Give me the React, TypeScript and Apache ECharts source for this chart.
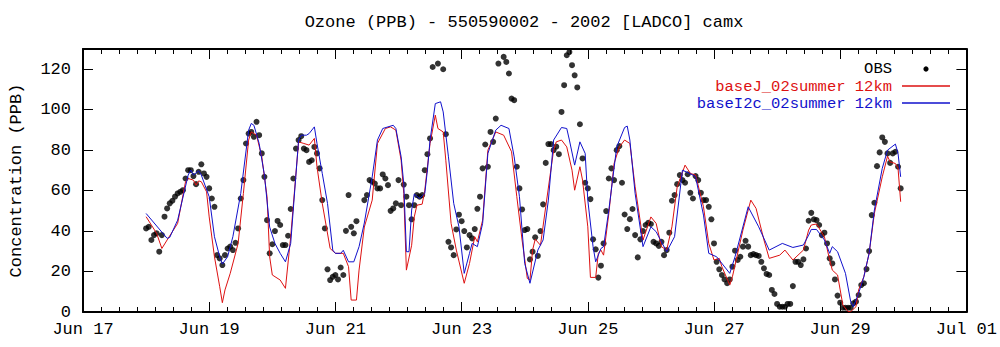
import React, { useEffect, useRef } from "react";
import * as echarts from "echarts";

// x positions are hours since 2002-06-18 00:00
const xTickLabels = ["Jun 17", "Jun 19", "Jun 21", "Jun 23", "Jun 25", "Jun 27", "Jun 29", "Jul 01"];
const seriesNames = ["OBS", "baseJ_02summer 12km", "baseI2c_02summer 12km"];

// hourly observations from Jun 18 00:00
const obsValues: (number | null)[] = [
  41.3, 42.1, 35.6, 38, 38.9, 29.8, 38, 47.1, 51.2, 53.7,
  55, 57, 58.6, 59.4, 60.2, 66, 70.1, 70.1, 67.2, 63.2,
  69.3, 73, 68.5, 66.8, 61.1, 56.1, 52, 28.1, 26.5, 23.2,
  28.1, 31.4, 32.3, 30.6, 34.2, 41.3, 56.1, 65.2, 83.3, 88.2,
  89, 86.6, 94, 87.4, 78.4, 66.8, 45.4, 29, 33.5, 40,
  45, 43, 33.1, 33.1, 37.7, 50.9, 66, 80.8, 85, 86.9,
  80.8, 80, 74.2, 75, 81.6, 78.4, 71, 55.3, 41.3, 21.1,
  15.8, 17.4, 18.3, 16.1, 22, 18.3, 40.1, 57.8, 42.1, 38.9,
  44.9, null, null, 55.3, 57.8, 65.2, 64.4, 63.5, 61.1, 61.1,
  68, 66, 62.7, 50, 51.2, 53.7, 65.2, 52.8, 63, 57,
  52.8, 45.8, 52.8, 57.8, 57, 57.8, 70.1, 78, 85.8, 121.1,
  null, 122.8, null, 120, 87.9, 34.7, 31.9, 28.1, 40.8, 48.1,
  44.9, 40, 31.9, 38, 36.4, 41, 51, 57, 71, 82.8,
  71.8, 89, 84.1, 95.6, 122.8, null, 126.1, 123.6, 117.9, 105.5,
  104.7, 71.8, 61.1, 50.7, 40.5, 41, 26, 29.8, 36.9, 27.7,
  40, 53.2, 73.7, 83, 83, 80, 81.7, 78, 98.9, 112.1,
  126.9, 128.5, 122, 117, 111, 92.8, 75.9, 63.9, 61.1, 55.8,
  35.9, 31, 17, 22.9, 33.9, 49.9, 66, 71, 65.2, 80,
  82, 63.9, 48.2, 41, 45.9, 50.9, 38, 27, 35.9, 40,
  43, 44.1, 43.5, 34.7, 33.9, 32.7, 34.7, 28.1, 30.6, 39.2,
  55, 57.8, 63.2, 67.7, 65.2, 63.9, 68.1, 58.9, 56.1, 67.2,
  65.2, 58.9, 55.3, 55.3, 52, 45.8, 33.9, 24.8, 21.1, 18.3,
  16.1, 14.2, 16.1, 22.4, 30.3, 25.7, 27.3, 32.3, 35.2, 32.3,
  28.1, 28.6, 28.1, 27.7, 24.8, 21.6, 18.8, 18.3, 10.9, 8.9,
  4, 2.6, 2.6, 2.6, 4, 4, 12.8, 24.8, 24.8, 23.2,
  26, 31.4, 45.1, 49, 45.8, 45.4, 43, 38, 39.2, 33.9,
  26.5, 24, 16.1, 8.1, 4.6, 2.1, 2.1, 2.1, 2.1, 4.3,
  5.1, 8.4, 13.3, 14.2, 21.2, 30.1, 47.9, 54, 72.1, 78.9,
  86.3, 84.1, 78.4, 73.7, 78.4, 79.2, 71.8, 61.1,
];

// model runs: [hour since Jun 18 00:00, ppb]
const baseJ: [number, number][] = [
  [0, 47.1], [4, 38.9], [6, 31.4], [8, 35.6], [12, 43.8], [15, 64.4], [16, 66], [18, 65.2], [19, 62.7], [20, 64.8],
  [21, 64.4], [23, 59.4], [24, 47], [26, 27.3], [28, 12.5], [29, 4.6], [30, 10.9], [32, 19.1], [35, 33.9], [37, 58.6],
  [39, 85], [40, 89], [42, 87.4], [44, 76.7], [46, 57], [47, 27.3], [48, 18.3], [51, 15.8], [53, 11.7], [55, 37.2],
  [58, 84.1], [60, 83.3], [62, 82.5], [64, 85.8], [65, 71.8], [67, 53.7], [70, 31.4], [72, 29], [75, 29], [77, 22.4],
  [78, 5.9], [80, 5.9], [81, 20.7], [83, 42], [86, 55.3], [88, 83.3], [91, 90.7], [93, 91.5], [95, 89.9], [97, 75],
  [98, 58.6], [99, 20.7], [101, 33], [102, 47], [103, 52.8], [105, 53.3], [106, 60.2], [108, 83.3], [110, 97.3], [111, 90.7],
  [113, 89], [114, 75], [116, 43.8], [118, 30.6], [121, 14.2], [123, 24], [125, 37.2], [126, 34.7], [128, 45.4], [130, 80],
  [133, 89], [136, 87.4], [139, 79.2], [141, 57], [143, 35.6], [145, 16.6], [146, 15.8], [147, 30.6], [148, 36], [150, 33],
  [152, 52], [155, 80], [156, 84.1], [158, 85], [160, 81.6], [162, 70.1], [163, 60.2], [165, 71.8], [166, 65.2], [168, 42.1],
  [169, 17.1], [171, 17.1], [172, 29], [173, 30.6], [174, 28.1], [176, 48.7], [178, 73.4], [180, 81.6], [182, 85], [184, 83.3],
  [186, 61.9], [189, 35.6], [192, 47], [194, 43.8], [196, 32.3], [198, 30.6], [200, 42.1], [202, 61.9], [205, 72.6], [207, 68.5],
  [209, 67.7], [212, 52], [214, 33.9], [216, 25.7], [218, 26.5], [219, 22.4], [222, 13.3], [223, 17.4], [227, 40.5], [230, 55.3],
  [232, 51.2], [235, 35.6], [237, 26.5], [241, 28.1], [243, 30.6], [246, 25.7], [250, 30.6], [252, 40.5], [253, 43], [255, 43.5],
  [258, 37.2], [260, 25.7], [261, 20.7], [263, 18.3], [264, 10.9], [265, 3.5], [267, 0.2], [268, 0.2], [270, 2.6], [271, 10.9],
  [273, 17.4], [275, 29], [277, 48.7], [280, 66.8], [282, 77], [283, 74.2], [285, 73.4], [286, 71], [287, 54.5],
];

const baseI2c: [number, number][] = [
  [0, 48.7], [8, 36.4], [9, 36.9], [12, 45.4], [16, 67.7], [17, 70.1], [18, 67.7], [20, 69.8], [21, 67.7], [24, 57],
  [26, 37.2], [28, 27.3], [29, 23.7], [31, 27.3], [33, 37.2], [36, 58.6], [39, 89.9], [40, 93.2], [41, 92.3], [43, 83.3],
  [45, 67.7], [47, 42], [49, 33.9], [51, 29], [53, 24.8], [55, 33.9], [58, 85], [59, 87.4], [61, 87.4], [62, 88.2],
  [64, 91.5], [65, 83.3], [67, 68.5], [69, 53.7], [71, 30.6], [72, 29], [74, 29], [75, 30.5], [77, 24.8], [79, 24.8],
  [81, 32.3], [83, 44], [86, 66.8], [88, 85], [90, 90.7], [92, 91.5], [94, 92.3], [95, 90.7], [97, 76.7], [98, 63.5],
  [99, 29.8], [100, 29.8], [101, 50.4], [102, 58.3], [104, 56.1], [106, 58.6], [107, 70.1], [108, 85], [110, 103], [112, 103.9],
  [113, 98.9], [115, 76.7], [117, 53.7], [119, 42.1], [121, 19.1], [123, 29], [124, 33.9], [126, 32.3], [128, 43.8], [130, 78.4],
  [133, 89.9], [135, 92.3], [138, 90.7], [140, 76.7], [142, 57], [144, 24], [146, 14.2], [149, 30.6], [151, 35.6], [153, 55.3],
  [155, 85], [158, 91.2], [160, 90.7], [161, 85], [163, 72.6], [165, 84.1], [167, 78.4], [168, 55.3], [170, 32.3], [171, 24.8],
  [173, 31.4], [174, 32.3], [176, 50.4], [179, 81.6], [182, 91.2], [183, 91.9], [184, 85], [186, 58.6], [189, 32.3], [192, 42.1],
  [194, 39.7], [198, 29.8], [201, 37.2], [204, 70.1], [208, 67.7], [209, 66.8], [212, 47.9], [214, 29], [217, 27.3], [222, 19.1],
  [224, 27.3], [229, 52], [233, 42.1], [237, 30.6], [242, 33.9], [246, 31.9], [250, 33.1], [252, 38], [253, 40.8], [255, 40.8],
  [258, 35.6], [260, 29], [261, 32.3], [263, 29.8], [266, 19.1], [268, 5.1], [269, 2.6], [271, 9.2], [273, 17.4], [275, 29],
  [277, 50.4], [280, 71], [282, 80], [285, 83], [286, 78.4], [287, 66.8],
];

const FONT = "'Liberation Mono', 'DejaVu Sans Mono', monospace";
const RED = "#dd1111";
const BLUE = "#1111cc";
const OFFSET = 24; // Jun 18 00:00 is 24 h after axis origin (Jun 17 00:00)

export default function App() {
  const ref = useRef<HTMLDivElement>(null);
  useEffect(() => {
    if (!ref.current) return;
    const chart = echarts.init(ref.current, null, { renderer: "svg" });
    const axisLine = { show: true, onZero: false, lineStyle: { color: "#000", width: 2 } };
    const xCommon = {
      type: "value" as const,
      min: 0,
      max: 336,
      interval: 48,
      axisLine,
      axisTick: { show: true, inside: true, length: 10, lineStyle: { color: "#000", width: 1 } },
      minorTick: { show: true, splitNumber: 7, length: 5, lineStyle: { color: "#000", width: 1 } },
      splitLine: { show: false },
    };
    const yCommon = {
      type: "value" as const,
      min: 0,
      max: 130,
      interval: 20,
      axisLine,
      axisTick: { show: true, inside: true, length: 10, lineStyle: { color: "#000", width: 1 } },
      splitLine: { show: false },
    };
    const obsData = obsValues
      .map((v, i) => (v == null ? null : [OFFSET + i, v]))
      .filter((d) => d !== null);
    const legendText = (text: string, y: number, fill: string) => ({
      type: "text",
      x: 892,
      y,
      style: {
        text,
        fontFamily: FONT,
        fontSize: 15.5,
        lineHeight: 14,
        fill,
        align: "right",
        verticalAlign: "middle",
      },
    });
    chart.setOption({
      animation: false,
      backgroundColor: "#fff",
      grid: { left: 78, right: 31, top: 49, bottom: 35 },
      xAxis: [
        {
          ...xCommon,
          position: "bottom",
          axisLabel: {
            show: true,
            margin: 9,
            fontFamily: FONT,
            fontSize: 17,
            color: "#000",
            formatter: (v: number) => xTickLabels[Math.round(v / 48)] ?? "",
          },
        },
        { ...xCommon, position: "top", axisLabel: { show: false } },
      ],
      yAxis: [
        {
          ...yCommon,
          position: "left",
          name: "Concentration (PPB)",
          nameLocation: "middle",
          nameRotate: 90,
          nameGap: 58,
          nameTextStyle: { fontFamily: FONT, fontSize: 17, color: "#000" },
          axisLabel: {
            show: true,
            margin: 12,
            showMaxLabel: false,
            fontFamily: FONT,
            fontSize: 17,
            color: "#000",
            formatter: (v: number) => (v > 120 ? "" : String(v)),
          },
        },
        { ...yCommon, position: "right", axisLabel: { show: false } },
      ],
      series: [
        {
          name: seriesNames[0],
          type: "scatter",
          data: obsData,
          symbol: "circle",
          symbolSize: 6,
          itemStyle: { color: "#000" },
          z: 2,
        },
        {
          name: seriesNames[1],
          type: "line",
          data: baseJ.map(([h, v]) => [OFFSET + h, v]),
          showSymbol: false,
          lineStyle: { color: RED, width: 1 },
          z: 3,
        },
        {
          name: seriesNames[2],
          type: "line",
          data: baseI2c.map(([h, v]) => [OFFSET + h, v]),
          showSymbol: false,
          lineStyle: { color: BLUE, width: 1 },
          z: 4,
        },
      ],
      graphic: [
        {
          type: "text",
          x: 524,
          y: 22,
          style: {
            text: "Ozone (PPB) - 550590002 - 2002 [LADCO] camx",
            fontFamily: FONT,
            fontSize: 17,
            fill: "#000",
            align: "center",
            verticalAlign: "middle",
          },
        },
        legendText(seriesNames[0], 69, "#000"),
        { type: "circle", shape: { cx: 926, cy: 69, r: 2.6 }, style: { fill: "#000" } },
        legendText(seriesNames[1], 86.5, RED),
        { type: "line", shape: { x1: 902, y1: 86, x2: 950, y2: 86 }, style: { stroke: RED, lineWidth: 1.3 } },
        legendText(seriesNames[2], 103.5, BLUE),
        { type: "line", shape: { x1: 902, y1: 103, x2: 950, y2: 103 }, style: { stroke: BLUE, lineWidth: 1.3 } },
      ],
    });
    return () => chart.dispose();
  }, []);
  return (
    <div
      ref={ref}
      style={{ position: "fixed", left: 0, top: 0, width: 1000, height: 347, background: "#fff" }}
    />
  );
}
